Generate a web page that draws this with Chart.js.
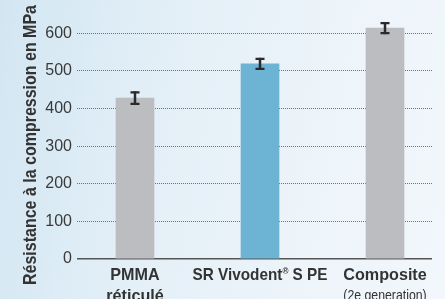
<!DOCTYPE html>
<html>
<head>
<meta charset="utf-8">
<script src="https://cdn.jsdelivr.net/npm/chart.js@4/dist/chart.umd.min.js"></script>
<style>
    html, body { margin: 0; padding: 0; }
    body {
        width: 445px; height: 299px; overflow: hidden;
        background: linear-gradient(100deg, #d2e6f2 0%, #e3eff7 35%, #edf4fa 70%, #f1f7fb 100%);
    }
    #wrap { position: relative; width: 445px; height: 299px; }
</style>
</head>
<body>
<div id="wrap"><canvas id="chart"></canvas></div>
<script>
/* chart data */
const categories = [['PMMA', 'réticulé'], ['SR Vivodent® S PE'], ['Composite']];
const subLabels = [null, null, '(2e generation)'];
const values = [428, 519, 614];
const errors = [18, 16, 16];
const barColors = ['#bcbdc1', '#6db4d4', '#bcbdc1'];
const yMin = 0, yMax = 650, yStep = 100;
const yTitle = 'Résistance à la compression en MPa';

const FONT = "'Liberation Sans', Arial, sans-serif";
const INK = '#333333';

Chart.defaults.font.family = FONT;

// draw text squeezed horizontally (the original uses a condensed face)
function fillNarrow(ctx, text, x, y, sx) {
    ctx.save();
    ctx.translate(x, y);
    ctx.scale(sx, 1);
    ctx.fillText(text, 0, 0);
    ctx.restore();
}

// error bars, rotated axis title and the category labels
const extras = {
    id: 'extras',
    afterDatasetsDraw(chart) {
        const ctx = chart.ctx;
        const x = chart.scales.x, y = chart.scales.y;
        ctx.save();

        // error bars
        ctx.strokeStyle = '#2a2a2a';
        values.forEach((v, i) => {
            const cx = x.getPixelForValue(i);
            const top = y.getPixelForValue(v + errors[i]);
            const bot = y.getPixelForValue(v - errors[i]);
            ctx.lineWidth = 2.5;
            ctx.beginPath();
            ctx.moveTo(cx, top); ctx.lineTo(cx, bot);
            ctx.stroke();
            ctx.lineWidth = 2.2;
            ctx.beginPath();
            ctx.moveTo(cx - 4.5, top + 1); ctx.lineTo(cx + 4.5, top + 1);
            ctx.moveTo(cx - 4.5, bot - 1); ctx.lineTo(cx + 4.5, bot - 1);
            ctx.stroke();
        });

        // x labels
        const SX = 0.95;
        ctx.fillStyle = INK;
        ctx.textBaseline = 'alphabetic';
        ctx.textAlign = 'left';
        categories.forEach((lines, i) => {
            const cx = x.getPixelForValue(i);
            lines.forEach((line, j) => {
                const by = chart.chartArea.bottom + 21 + j * 21;
                const parts = line.split('®');
                ctx.font = 'bold 17px ' + FONT;
                if (parts.length === 1) {
                    const w = ctx.measureText(line).width * SX;
                    fillNarrow(ctx, line, cx - w / 2, by, SX);
                    return;
                }
                // superscript registered sign
                const sxr = 0.9;
                const w0 = ctx.measureText(parts[0]).width * sxr;
                const w1 = ctx.measureText(parts[1]).width * sxr;
                ctx.font = 'bold 9px ' + FONT;
                const wr = ctx.measureText('®').width * sxr;
                const sx = cx - (w0 + wr + w1) / 2;
                ctx.font = 'bold 17px ' + FONT;
                fillNarrow(ctx, parts[0], sx, by, sxr);
                ctx.font = 'bold 9px ' + FONT;
                fillNarrow(ctx, '®', sx + w0, by - 6, sxr);
                ctx.font = 'bold 17px ' + FONT;
                fillNarrow(ctx, parts[1], sx + w0 + wr, by, sxr);
            });
            if (subLabels[i]) {
                ctx.font = '15px ' + FONT;
                const w = ctx.measureText(subLabels[i]).width * 0.82;
                fillNarrow(ctx, subLabels[i], cx - w / 2, chart.chartArea.bottom + 41, 0.82);
            }
        });

        // y title, fitted to the span it has in the original
        ctx.font = 'bold 19px ' + FONT;
        const tw = ctx.measureText(yTitle).width;
        const k = 280 / tw;
        ctx.translate(36, 145);
        ctx.rotate(-Math.PI / 2);
        ctx.scale(k, 1);
        ctx.textAlign = 'center';
        ctx.textBaseline = 'alphabetic';
        ctx.fillText(yTitle, 0, 0);
        ctx.restore();
    }
};

new Chart(document.getElementById('chart').getContext('2d'), {
    type: 'bar',
    data: {
        datasets: [{
            data: values.map((v, i) => ({ x: i, y: v })),
            backgroundColor: barColors,
            borderWidth: 0,
            barThickness: 38
        }]
    },
    options: {
        responsive: true,
        maintainAspectRatio: false,
        animation: false,
        layout: { padding: { top: 13, bottom: 40, left: 0, right: 13 } },
        plugins: { legend: { display: false }, tooltip: { enabled: false } },
        scales: {
            x: { type: 'linear', offset: false, min: -0.464, max: 2.376, display: false },
            y: {
                min: yMin, max: yMax,
                afterFit: s => { s.width = 77; },
                ticks: {
                    stepSize: yStep,
                    padding: 5,
                    color: '#3a3a3a',
                    font: { size: 16 },
                    callback: v => (v % yStep === 0 ? v : '')
                },
                grid: {
                    drawTicks: false,
                    color: c => (c.tick.value % yStep ? 'rgba(0,0,0,0)' : (c.tick.value === 0 ? '#555' : '#707070')),
                    lineWidth: c => (c.tick.value === 0 ? 1.6 : 1)
                },
                border: {
                    display: false,
                    dash: c => (c.tick && c.tick.value === 0 ? [] : [1, 1])
                }
            }
        }
    },
    plugins: [extras]
});
</script>
</body>
</html>
